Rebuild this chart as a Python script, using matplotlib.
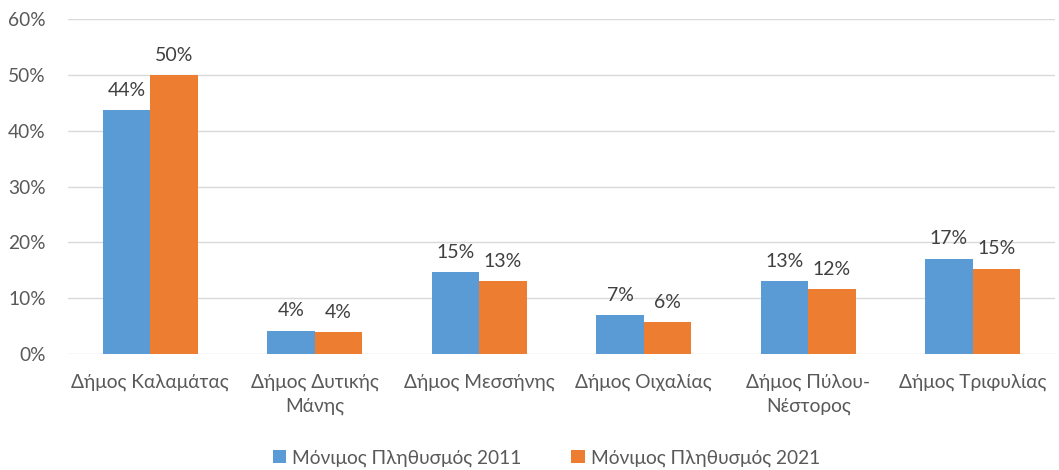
import numpy as np
import matplotlib
matplotlib.use('Agg')
import matplotlib.pyplot as plt
from matplotlib.ticker import PercentFormatter

plt.rcParams['font.family'] = ['Lato', 'DejaVu Sans']

categories = ['Δήμος Καλαμάτας', 'Δήμος Δυτικής\nΜάνης', 'Δήμος Μεσσήνης',
              'Δήμος Οιχαλίας', 'Δήμος Πύλου-\nΝέστορος', 'Δήμος Τριφυλίας']
pop_2011 = [0.437, 0.042, 0.146, 0.069, 0.131, 0.171]
pop_2021 = [0.500, 0.039, 0.131, 0.057, 0.116, 0.153]
series_names = ['Μόνιμος Πληθυσμός 2011', 'Μόνιμος Πληθυσμός 2021']
colors = ['#5b9bd5', '#ed7d31']

fig = plt.figure(figsize=(10.59, 4.70), dpi=100)
ax = fig.add_axes([68/1059, 1 - 354/470, (1055-68)/1059, (354-19)/470])

x = np.arange(len(categories))
w = 0.289
for i, (vals, name, c) in enumerate(zip([pop_2011, pop_2021], series_names, colors)):
    pos = x + (i - 0.5) * w
    bars = ax.bar(pos, vals, w, color=c, label=name, zorder=3)
    for b, v in zip(bars, vals):
        ax.annotate(f'{v*100:.0f}%', (b.get_x() + b.get_width()/2, v),
                    xytext=(0, 8), textcoords='offset points',
                    ha='center', va='bottom', fontsize=14, color='#404040')

ax.set_xlim(-0.5, len(categories) - 0.5)
ax.set_ylim(0, 0.6)
ax.set_yticks(np.arange(0, 0.61, 0.1))
ax.yaxis.set_major_formatter(PercentFormatter(1.0, decimals=0))
ax.grid(axis='y', color='#d9d9d9', linewidth=1, zorder=0)
for s in ax.spines.values():
    s.set_visible(False)
ax.tick_params(axis='both', length=0, labelsize=13.8, labelcolor='#595959')
ax.tick_params(axis='y', pad=16)
ax.tick_params(axis='x', pad=14)
ax.set_xticks(x)
ax.set_xticklabels(categories, linespacing=1.45)

fig.legend(loc='lower center', bbox_to_anchor=(0.516, -0.03), ncol=2, frameon=False,
           fontsize=13.8, labelcolor='#595959', handlelength=0.7, handleheight=0.7,
           handletextpad=0.3, columnspacing=2.6)

fig.savefig('out.png', dpi=100)
